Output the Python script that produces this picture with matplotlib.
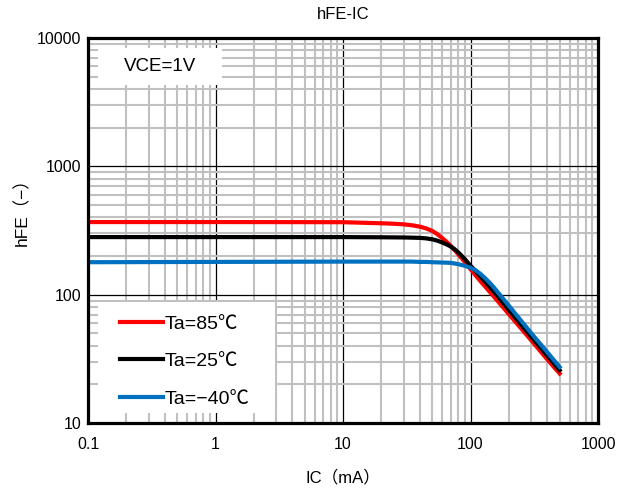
import matplotlib
matplotlib.use('Agg')
import matplotlib.pyplot as plt
from matplotlib.patches import Rectangle
from matplotlib.ticker import LogLocator, NullFormatter

plt.rcParams['font.family'] = ['Liberation Sans', 'Noto Sans CJK JP', 'DejaVu Sans']

# IC (mA) and hFE
ic = [0.1, 1, 10, 20, 25, 30, 35, 40, 45, 50, 55, 60, 65, 70, 75, 80, 90, 100,
      110, 120, 130, 140, 150, 200, 300, 400, 500]
hfe_85 = [368, 368, 367, 360, 357, 353, 347, 339, 328, 314, 296, 276, 258, 240, 223, 207, 180, 158,
          141, 127, 116, 106.5, 98.5, 70.5, 44, 31.3, 24.3]
hfe_25 = [281, 281, 281, 280, 279.5, 279, 278, 277, 274.5, 270, 263.5, 255, 246.5, 237, 226, 214, 190, 168,
          152.5, 138, 126.5, 116.5, 108, 76, 47, 33.5, 25.8]
hfe_m40 = [179, 180, 181, 181, 181, 181, 181, 180, 180, 179, 178.5, 178, 177.5, 177, 175, 173, 168, 162,
           154.5, 144.8, 134.7, 125.1, 116.1, 82, 50, 35.6, 27.3]

labels = ['Ta=85℃', 'Ta=25℃', 'Ta=−40℃']
colors = ['#ff0000', '#000000', '#0070c0']

xticks = [0.1, 1, 10, 100, 1000]
xticklabels = ['0.1', '1', '10', '100', '1000']
yticks = [10, 100, 1000, 10000]
yticklabels = ['10', '100', '1000', '10000']

fig = plt.figure(figsize=(6.34, 4.93), dpi=100)
ax = fig.add_axes([88 / 634, 70 / 493, 510 / 634, 385 / 493])

ax.set_xscale('log')
ax.set_yscale('log')
ax.set_xlim(0.1, 1000)
ax.set_ylim(10, 10000)
ax.set_xticks(xticks)
ax.set_xticklabels(xticklabels)
ax.set_yticks(yticks)
ax.set_yticklabels(yticklabels)
for axis in (ax.xaxis, ax.yaxis):
    axis.set_minor_locator(LogLocator(base=10, subs=range(2, 10)))
    axis.set_minor_formatter(NullFormatter())

ax.set_axisbelow(True)
ax.grid(which='minor', color='#c0c0c0', lw=1.5)
ax.grid(which='major', color='black', lw=0.9)
ax.tick_params(which='both', length=0)
ax.tick_params(axis='x', pad=10, labelsize=11.5)
ax.tick_params(axis='y', pad=5, labelsize=11.5)
for sp in ax.spines.values():
    sp.set_linewidth(2.3)

# white boxes over the grid
ax.add_patch(Rectangle((0.0196, 0.878), 0.243, 0.096, transform=ax.transAxes,
                       fc='white', ec='none', zorder=1.5))
ax.add_patch(Rectangle((0.0196, 0.026), 0.347, 0.288, transform=ax.transAxes,
                       fc='white', ec='none', zorder=1.5))
ax.text(0.141, 0.925, 'VCE=1V', transform=ax.transAxes, ha='center', va='center',
        fontsize=13.5, zorder=3)

for y, c, lab in zip([hfe_85, hfe_25, hfe_m40], colors, labels):
    ax.plot(ic, y, color=c, lw=3, label=lab, zorder=2)

ax.legend(loc='upper left', bbox_to_anchor=(0.063, 0.2805), frameon=False,
          fontsize=14, handlelength=2.2, handletextpad=0.1, labelspacing=1.02,
          borderpad=0, borderaxespad=0)

ax.set_title('hFE-IC', fontsize=12, pad=14)
ax.set_xlabel('IC（mA）', fontsize=12)
ax.set_ylabel('hFE（−）', fontsize=12.5)
ax.xaxis.set_label_coords(0.5, -0.122)
ax.yaxis.set_label_coords(-0.114, 0.56)

fig.savefig('out.png', dpi=100)
